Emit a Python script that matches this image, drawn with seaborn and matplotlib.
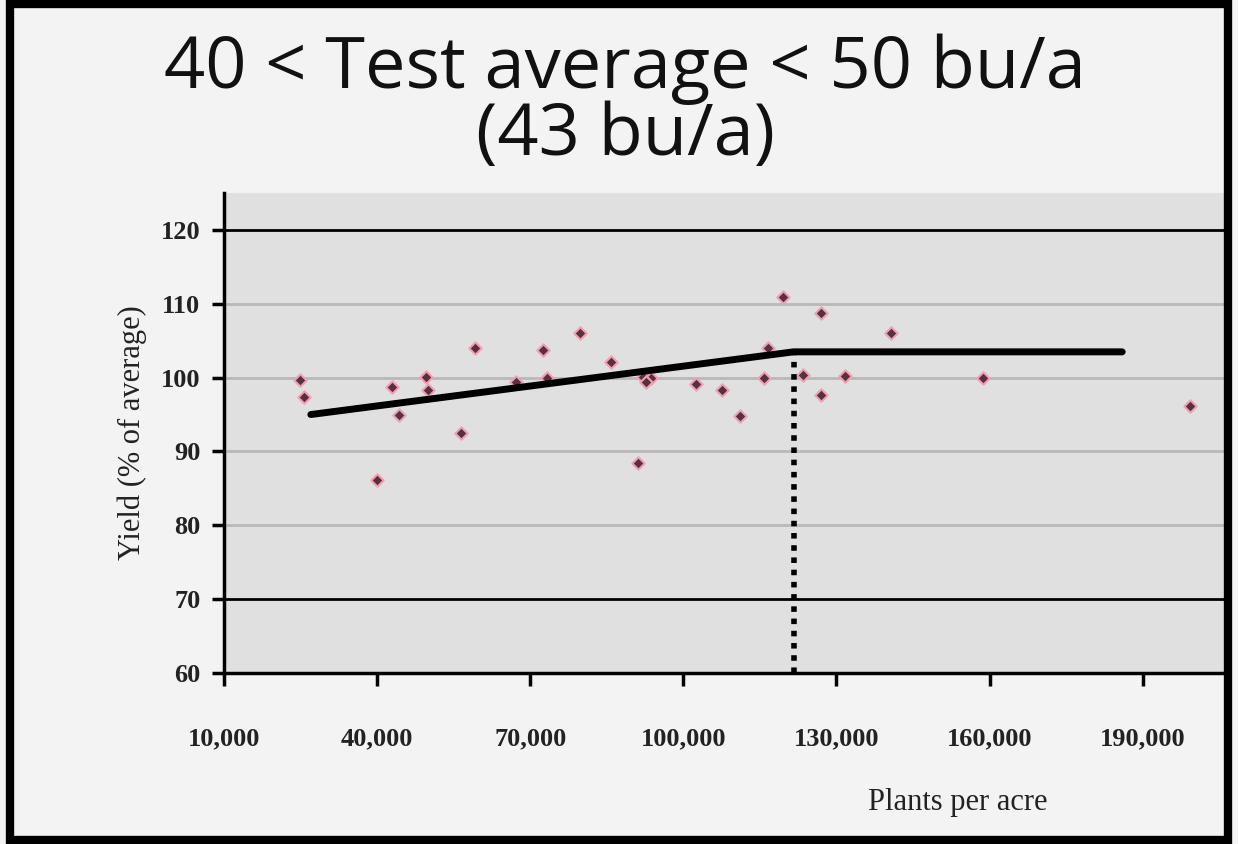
import matplotlib
matplotlib.use("Agg")
import matplotlib.pyplot as plt
import seaborn as sns
import pandas as pd
from matplotlib.ticker import FuncFormatter

plants = [24800, 25700, 43000, 44200, 49600, 50000, 39900, 56400, 59100, 67300,
          72500, 73300, 79700, 85900, 91200, 92100, 93700, 92700, 102400, 107500,
          111200, 115800, 116600, 119500, 123400, 126900, 126900, 131600, 140700,
          158700, 199300]
yield_pct = [99.7, 97.4, 98.7, 94.9, 100.1, 98.3, 86.1, 92.5, 104.0, 99.4,
             103.7, 99.9, 106.0, 102.1, 88.4, 100.1, 99.9, 99.4, 99.1, 98.3,
             94.8, 99.9, 104.0, 110.9, 100.4, 97.6, 108.8, 100.2, 106.0,
             99.9, 96.2]
fit_x = [27000, 121600, 186000]
fit_y = [95.0, 103.5, 103.5]
break_x = 121600
yticks = [60, 70, 80, 90, 100, 110, 120]
xticks = [10000, 40000, 70000, 100000, 130000, 160000, 190000]

sns.set_style("white")
fig = plt.figure(figsize=(12.38, 8.44), dpi=100)
fig.patch.set_facecolor("#f3f3f3")
ax = fig.add_axes([0.181, 0.203, 0.812, 0.568])
ax.set_facecolor("#e0e0e0")

df = pd.DataFrame({"x": plants, "y": yield_pct})
for yv in yticks[1:]:
    ax.axhline(yv, color="black" if yv in (70, 120) else "#b8b8b8", lw=2, zorder=1)
sns.scatterplot(data=df, x="x", y="y", ax=ax, color="#5a3040", s=40, marker="D",
                edgecolor="#f0a0b0", linewidth=1.5, zorder=3)
sns.lineplot(x=fit_x, y=fit_y, ax=ax, color="black", lw=5, zorder=4)
ax.plot([break_x, break_x], [60, fit_y[1]], color="black", lw=4, ls=(0, (1, 1.2)), zorder=4)

ax.set_xlim(10000, 207000)
ax.set_ylim(60, 125)
ax.set_xticks(xticks)
ax.set_yticks(yticks)
ax.xaxis.set_major_formatter(FuncFormatter(lambda v, p: f"{int(v):,}"))
for s in ["top", "right"]:
    ax.spines[s].set_visible(False)
for s in ["left", "bottom"]:
    ax.spines[s].set_color("black")
    ax.spines[s].set_linewidth(2.5)
ax.tick_params(axis="both", direction="out", length=9, width=2.5, color="black",
               labelsize=19, bottom=True, left=True)
ax.tick_params(axis="x", pad=30)
ax.tick_params(axis="y", pad=8)
for lab in ax.get_xticklabels() + ax.get_yticklabels():
    lab.set_family("Liberation Serif")
    lab.set_fontweight("bold")
    lab.set_color("#222222")
ax.set_xlabel("Plants per acre", family="Liberation Serif", fontsize=22, color="#222222")
ax.xaxis.set_label_coords(0.73, -0.24)
ax.set_ylabel("Yield (% of average)", family="Liberation Serif", fontsize=22,
              labelpad=10, color="#222222")

fig.text(0.505, 0.918, "40 < Test average < 50 bu/a", ha="center", va="center", fontsize=52,
         family="Open Sans", color="#111111")
fig.text(0.505, 0.838, "(43 bu/a)", ha="center", va="center", fontsize=52,
         family="Open Sans", color="#111111")

frame = plt.Rectangle((0.008, 0.005), 0.984, 0.99, transform=fig.transFigure,
                      fill=False, edgecolor="black", lw=6)
fig.patches.append(frame)
fig.savefig("out.png", dpi=100, facecolor=fig.get_facecolor())
